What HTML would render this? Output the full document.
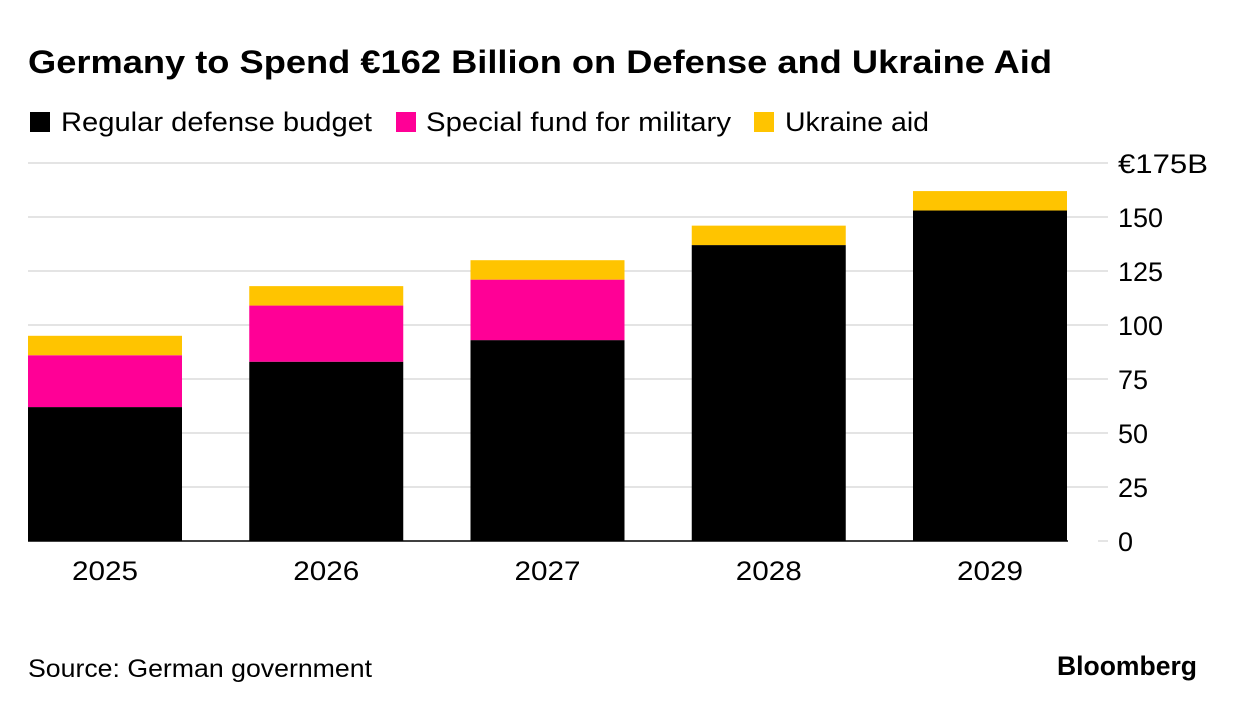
<!DOCTYPE html>
<html><head><meta charset="utf-8">
<style>
body{margin:0;background:#fff;font-family:"Liberation Sans",sans-serif;}
#wrap{position:relative;width:1236px;height:710px;overflow:hidden;}
</style></head>
<body>
<div id="wrap">
<svg id="chart" width="1236" height="710" xmlns="http://www.w3.org/2000/svg">
<text x="28" y="73" font-size="32" font-weight="bold" fill="#000" textLength="1024" lengthAdjust="spacingAndGlyphs">Germany to Spend €162 Billion on Defense and Ukraine Aid</text>
<g>
<rect x="30" y="112" width="20" height="20" fill="#000"/>
<text x="61" y="131" font-size="27" fill="#000" textLength="311" lengthAdjust="spacingAndGlyphs">Regular defense budget</text>
<rect x="396" y="112" width="20" height="20" fill="#ff0096"/>
<text x="426" y="131" font-size="27" fill="#000" textLength="305" lengthAdjust="spacingAndGlyphs">Special fund for military</text>
<rect x="754" y="112" width="20" height="20" fill="#ffc400"/>
<text x="785" y="131" font-size="27" fill="#000" textLength="144" lengthAdjust="spacingAndGlyphs">Ukraine aid</text>
</g>
<g id="grid"></g>
<g id="bars"></g>
<g id="labels"></g>
<text x="28" y="677" font-size="25" fill="#000" textLength="344" lengthAdjust="spacingAndGlyphs">Source: German government</text>
<text x="1197" y="675" font-size="27" font-weight="bold" fill="#000" text-anchor="end" textLength="140" lengthAdjust="spacingAndGlyphs">Bloomberg</text>
</svg>
</div>
<script>
const years = ["2025","2026","2027","2028","2029"];
const regular = [62, 83, 93, 137, 153];
const special = [24, 26, 28, 0, 0];
const ukraine = [9, 9, 9, 9, 9];
const ticks = [0,25,50,75,100,125,150,175];
const tickLabels = ["0","25","50","75","100","125","150","€175B"];

const NS="http://www.w3.org/2000/svg";
const y0=541, pxPer=378/175;
function y(v){return y0 - v*pxPer;}
const bandStart=28, band=221.25, barW=154;
function x(i){return bandStart + i*band;}
const grid=document.getElementById('grid');
const bars=document.getElementById('bars');
const labels=document.getElementById('labels');
function mk(tag,attrs,parent){const e=document.createElementNS(NS,tag);for(const k in attrs)e.setAttribute(k,attrs[k]);parent.appendChild(e);return e;}
ticks.forEach((t,i)=>{
  const l=mk('line',{x1:28, x2: t===0?1068:1108, y1:y(t), y2:y(t), stroke: t===0?'#000':'#dcdcdc','stroke-width':1.5},grid);
  
  
  if(t===0){const d=mk('line',{x1:1098,x2:1108,y1:y(t),y2:y(t),stroke:'#dcdcdc','stroke-width':1.5},grid);
    
    }
  const tx=mk('text',{x:1118,y:y(t)+10,'font-size':27,fill:'#000'},grid);
  if(tickLabels[i].length>3){tx.setAttribute('textLength',90);tx.setAttribute('lengthAdjust','spacingAndGlyphs');}
  tx.textContent=tickLabels[i];
  
  
});
years.forEach((yr,i)=>{
  const segs=[[regular[i],'#000','regular'],[special[i],'#ff0096','special'],[ukraine[i],'#ffc400','ukraine']];
  let base=0;
  segs.forEach(s=>{
    if(s[0]<=0)return;
    const r=mk('rect',{x:x(i),y:y(base+s[0]),width:barW,height:s[0]*pxPer,fill:s[1]},bars);
    
    
    base+=s[0];
  });
  const t=mk('text',{x:x(i)+barW/2,y:580,'font-size':27,fill:'#000','text-anchor':'middle',textLength:66,lengthAdjust:'spacingAndGlyphs'},labels);
  t.textContent=yr;
  
  
});
</script>
</body></html>
